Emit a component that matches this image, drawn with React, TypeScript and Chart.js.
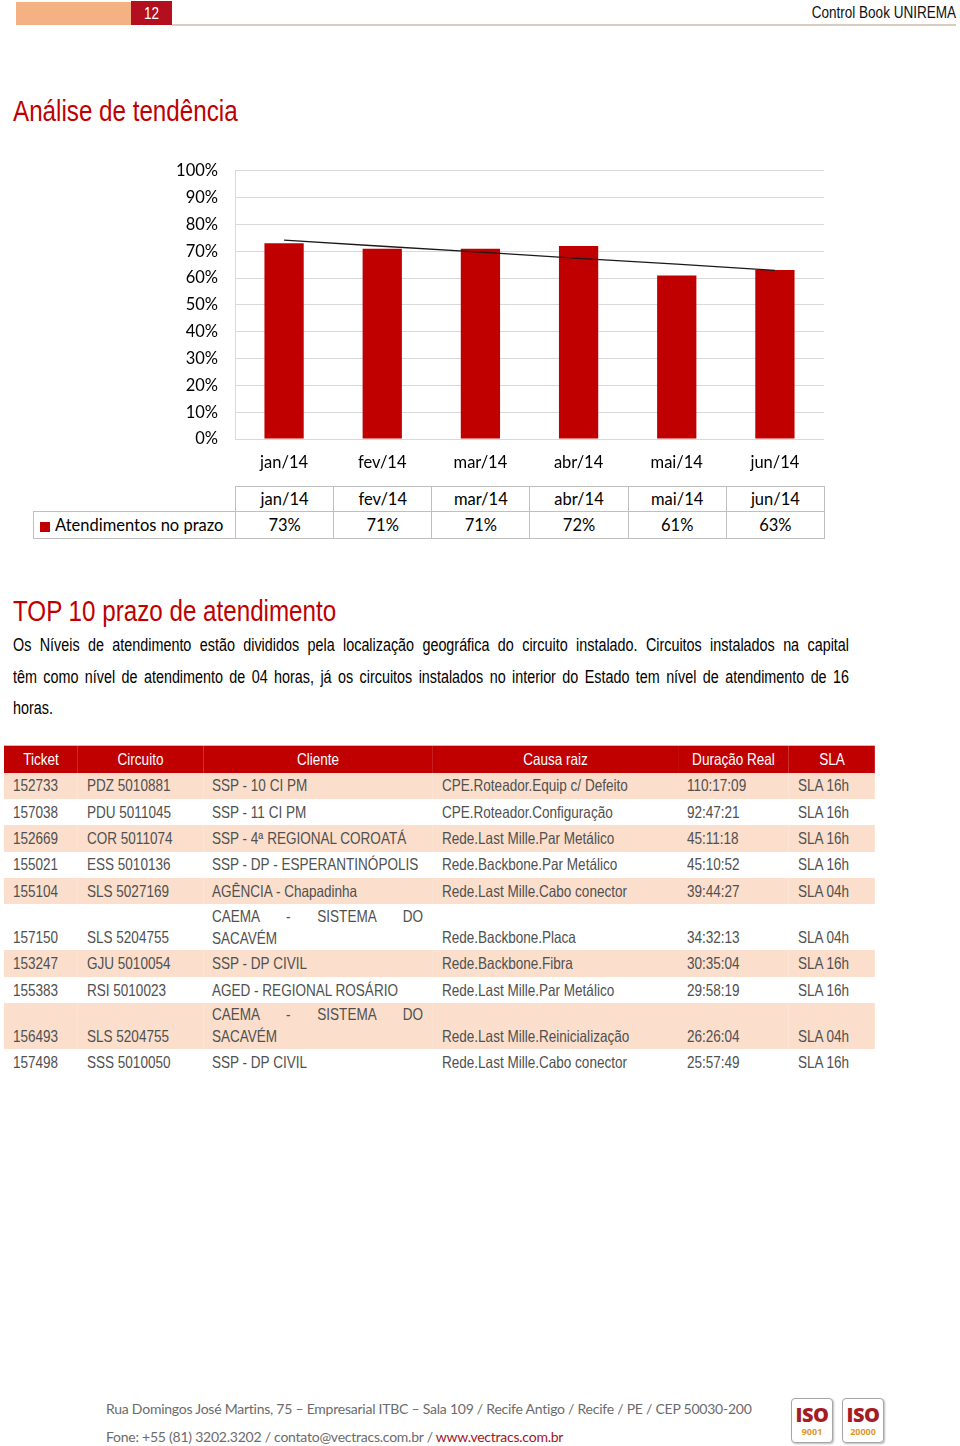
import React, { useEffect, useRef } from "react";
import { Chart, registerables } from "chart.js";
Chart.register(...registerables);

// ---------- chart data ----------
const months = ["jan/14", "fev/14", "mar/14", "abr/14", "mai/14", "jun/14"];
const seriesName = "Atendimentos no prazo";
const atendimentos = [0.73, 0.71, 0.71, 0.72, 0.61, 0.63];
const tendencia = [0.742, 0.719, 0.697, 0.674, 0.652, 0.629];
const tableValues = ["73%", "71%", "71%", "72%", "61%", "63%"];

// ---------- top 10 table data ----------
const tableHeaders = ["Ticket", "Circuito", "Cliente", "Causa raiz", "Duração Real", "SLA"];
const tickets = ["152733", "157038", "152669", "155021", "155104", "157150", "153247", "155383", "156493", "157498"];
const circuitos = ["PDZ 5010881", "PDU 5011045", "COR 5011074", "ESS 5010136", "SLS 5027169", "SLS 5204755", "GJU 5010054", "RSI 5010023", "SLS 5204755", "SSS 5010050"];
const clientes = [
  "SSP - 10 CI PM",
  "SSP - 11 CI PM",
  "SSP - 4ª REGIONAL COROATÁ",
  "SSP - DP - ESPERANTINÓPOLIS",
  "AGÊNCIA - Chapadinha",
  "CAEMA - SISTEMA DO\nSACAVÉM",
  "SSP - DP CIVIL",
  "AGED - REGIONAL ROSÁRIO",
  "CAEMA - SISTEMA DO\nSACAVÉM",
  "SSP - DP CIVIL",
];
const causas = [
  "CPE.Roteador.Equip c/ Defeito",
  "CPE.Roteador.Configuração",
  "Rede.Last Mille.Par Metálico",
  "Rede.Backbone.Par Metálico",
  "Rede.Last Mille.Cabo conector",
  "Rede.Backbone.Placa",
  "Rede.Backbone.Fibra",
  "Rede.Last Mille.Par Metálico",
  "Rede.Last Mille.Reinicialização",
  "Rede.Last Mille.Cabo conector",
];
const duracoes = ["110:17:09", "92:47:21", "45:11:18", "45:10:52", "39:44:27", "34:32:13", "30:35:04", "29:58:19", "26:26:04", "25:57:49"];
const slas = ["SLA 16h", "SLA 16h", "SLA 16h", "SLA 16h", "SLA 04h", "SLA 04h", "SLA 16h", "SLA 16h", "SLA 04h", "SLA 16h"];

const bodyLines = [
  "Os Níveis de atendimento estão divididos pela localização geográfica do circuito instalado. Circuitos instalados na capital",
  "têm como nível de atendimento de 04 horas, já os circuitos instalados no interior do Estado tem nível de atendimento de 16",
  "horas.",
];

const RED = "#C00000";
const SANS = '"Liberation Sans", Arial, sans-serif';
const SX = 0.82; // narrow condensation
const CAL = 'Lato, "Noto Sans", sans-serif';

function TrendChart() {
  const ref = useRef<HTMLCanvasElement | null>(null);
  useEffect(() => {
    if (!ref.current) return;
    const chart = new Chart(ref.current, {
      type: "bar",
      data: {
        labels: months,
        datasets: [
          {
            type: "line",
            label: "Linear",
            data: tendencia,
            borderColor: "#1a1a1a",
            borderWidth: 1.3,
            pointRadius: 0,
            fill: false,
            order: 0,
          } as any,
          {
            type: "bar",
            label: seriesName,
            data: atendimentos,
            backgroundColor: RED,
            barPercentage: 0.4,
            categoryPercentage: 1,
            order: 1,
          },
        ],
      },
      options: {
        responsive: false,
        animation: false,
        devicePixelRatio: 1,
        layout: { padding: { top: 14, right: 16, left: 0, bottom: 0 } },
        plugins: { legend: { display: false }, tooltip: { enabled: false } },
        scales: {
          x: {
            grid: { display: false, drawTicks: false },
            border: { display: false },
            ticks: { color: "#000", font: { family: CAL, size: 16.5 }, padding: 14, maxRotation: 0 },
            afterFit: (s: any) => {
              s.height = 47;
            },
          },
          y: {
            min: 0,
            max: 1,
            grid: { color: "#d9d9d9", lineWidth: 1, drawTicks: false },
            border: { display: true, color: "#d9d9d9", width: 1 },
            ticks: {
              stepSize: 0.1,
              color: "#000",
              font: { family: CAL, size: 16.5 },
              padding: 17,
              callback: (v: any) => Math.round(Number(v) * 100) + "%",
            },
            afterFit: (s: any) => {
              s.width = 235;
            },
          },
        },
      },
    });
    return () => chart.destroy();
  }, []);
  return (
    <canvas
      ref={ref}
      width={840}
      height={342}
      style={{ position: "absolute", left: 0, top: 144, width: 840, height: 342 }}
    />
  );
}

function DataTable() {
  const border = "1px solid #bfbfbf";
  const cell: React.CSSProperties = { border, textAlign: "center", padding: 0 };
  return (
    <table
      style={{
        position: "absolute",
        left: 33,
        top: 486,
        width: 791,
        borderCollapse: "collapse",
        tableLayout: "fixed",
        fontFamily: CAL,
        fontSize: 16.5,
        color: "#000",
      }}
    >
      <colgroup>
        <col style={{ width: 202 }} />
        {months.map((m) => (
          <col key={m} style={{ width: 98.17 }} />
        ))}
      </colgroup>
      <tbody>
        <tr style={{ height: 25 }}>
          <td style={{ padding: 0 }} />
          {months.map((m) => (
            <td key={m} style={cell}>{m}</td>
          ))}
        </tr>
        <tr style={{ height: 27 }}>
          <td style={{ border, padding: "0 0 0 6px", whiteSpace: "nowrap" }}>
            <span style={{ display: "inline-block", width: 10, height: 10, background: RED, marginRight: 5, verticalAlign: "-1px" }} />
            {seriesName}
          </td>
          {tableValues.map((v, i) => (
            <td key={i} style={cell}>{v}</td>
          ))}
        </tr>
      </tbody>
    </table>
  );
}

function Top10Table() {
  const widths = [74, 125, 230, 245, 111, 86];
  const rows = tickets.map((t, i) => [t, circuitos[i], clientes[i], causas[i], duracoes[i], slas[i]]);
  return (
    <table
      style={{
        position: "absolute",
        left: 4,
        top: 745,
        width: 871 / SX,
        borderCollapse: "collapse",
        tableLayout: "fixed",
        fontFamily: SANS,
        fontSize: 16.5,
        transform: `scaleX(${SX})`,
        transformOrigin: "left top",
      }}
    >
      <colgroup>
        {widths.map((w, i) => (
          <col key={i} style={{ width: w / SX }} />
        ))}
      </colgroup>
      <thead>
        <tr style={{ background: RED, color: "#fff", height: 27, borderTop: "1px solid #f4b183" }}>
          {tableHeaders.map((h) => (
            <th key={h} style={{ fontWeight: "normal", textAlign: "center", padding: 0, lineHeight: "26px" }}>{h}</th>
          ))}
        </tr>
      </thead>
      <tbody>
        {rows.map((r, i) => {
          const multi = r[2].includes("\n");
          return (
            <tr key={i} style={{ background: i % 2 === 0 ? "#FBDFCC" : "#fff", height: multi ? 46 : 26.4, color: "#505050" }}>
              {r.map((c, j) => {
                const style: React.CSSProperties = {
                  padding: `0 0 1.6px ${9 / SX}px`,
                  verticalAlign: "bottom",
                  lineHeight: "23px",
                  whiteSpace: "nowrap",
                  textAlign: "left",
                };
                if (j === 2 && multi) {
                  const [a, b] = c.split("\n");
                  return (
                    <td key={j} style={{ ...style, paddingRight: 10 / SX, lineHeight: "22px", paddingBottom: 1.8 }}>
                      <div style={{ textAlign: "justify", textAlignLast: "justify" }}>{a}</div>
                      <div>{b}</div>
                    </td>
                  );
                }
                return (
                  <td key={j} style={style}>{c}</td>
                );
              })}
            </tr>
          );
        })}
      </tbody>
    </table>
  );
}

function Narrow({ children, style, origin = "left" }: { children: React.ReactNode; style: React.CSSProperties; origin?: string }) {
  return (
    <div
      style={{
        position: "absolute",
        fontFamily: SANS,
        whiteSpace: "nowrap",
        transform: `scaleX(${SX})`,
        transformOrigin: `${origin} top`,
        ...style,
      }}
    >
      {children}
    </div>
  );
}

function IsoBox({ num }: { num: string }) {
  return (
    <div
      style={{
        width: 40,
        height: 43,
        border: "1.5px solid #a6a6a6",
        borderRadius: 4,
        boxShadow: "1px 1px 2px #bbb",
        background: "#fff",
        textAlign: "center",
        fontFamily: '"Open Sans", "DejaVu Sans", sans-serif',
        display: "inline-block",
        marginRight: 9,
      }}
    >
      <div style={{ color: "#a51c24", fontWeight: 800, fontSize: 20, lineHeight: "24px", marginTop: 4, letterSpacing: -0.5 }}>ISO</div>
      <div style={{ color: "#e0962f", fontWeight: 700, fontSize: 9, lineHeight: "10px" }}>{num}</div>
    </div>
  );
}

export default function App() {
  return (
    <div
      style={{
        position: "absolute",
        left: 0,
        top: 0,
        width: 960,
        height: 1446,
        background: "#fff",
        overflow: "hidden",
      }}
    >
      {/* header */}
      <div style={{ position: "absolute", left: 16, top: 2, width: 115, height: 23, background: "#F4B183" }} />
      <div style={{ position: "absolute", left: 131, top: 1, width: 41, height: 24, background: "#B40F1E" }} />
      <Narrow style={{ left: 131, top: 1, width: 41 / SX, textAlign: "center", color: "#fff", fontSize: 16.5, lineHeight: "24px" }}>
        12
      </Narrow>
      <div style={{ position: "absolute", left: 172, top: 24, width: 784, height: 1.5, background: "#dccbbf" }} />
      <Narrow origin="right" style={{ right: 4, top: 2, fontSize: 16.5, lineHeight: "20px", color: "#111" }}>
        Control Book UNIREMA
      </Narrow>

      {/* title */}
      <Narrow style={{ left: 13, top: 93, fontSize: 29.5, lineHeight: "36px", color: RED }}>
        Análise de tendência
      </Narrow>

      <TrendChart />
      <DataTable />

      {/* section 2 */}
      <Narrow style={{ left: 13, top: 593, fontSize: 29.5, lineHeight: "36px", color: RED }}>
        TOP 10 prazo de atendimento
      </Narrow>
      {bodyLines.map((l, i) => (
        <Narrow
          key={i}
          style={{
            left: 13,
            top: 630 + i * 31.6,
            width: 836 / SX,
            fontSize: 17.5,
            lineHeight: "31.6px",
            color: "#000",
            whiteSpace: "normal",
            textAlign: i < bodyLines.length - 1 ? "justify" : "left",
            textAlignLast: i < bodyLines.length - 1 ? "justify" : "left",
          }}
        >
          {l}
        </Narrow>
      ))}

      <Top10Table />

      {/* footer */}
      <div
        style={{
          position: "absolute",
          left: 106,
          top: 1399,
          fontFamily: CAL,
          fontSize: 14,
          lineHeight: "20px",
          color: "#6b6b6b",
          whiteSpace: "nowrap",
          letterSpacing: -0.24,
        }}
      >
        Rua Domingos José Martins, 75 – Empresarial ITBC – Sala 109 / Recife Antigo / Recife / PE / CEP 50030-200
      </div>
      <div
        style={{
          position: "absolute",
          left: 106,
          top: 1427,
          fontFamily: CAL,
          fontSize: 14,
          lineHeight: "20px",
          color: "#6b6b6b",
          whiteSpace: "nowrap",
          letterSpacing: -0.24,
        }}
      >
        Fone: +55 (81) 3202.3202 / contato@vectracs.com.br / <span style={{ color: "#a3161c" }}>www.vectracs.com.br</span>
      </div>
      <div style={{ position: "absolute", left: 791, top: 1398 }}>
        <IsoBox num="9001" />
        <IsoBox num="20000" />
      </div>
    </div>
  );
}
